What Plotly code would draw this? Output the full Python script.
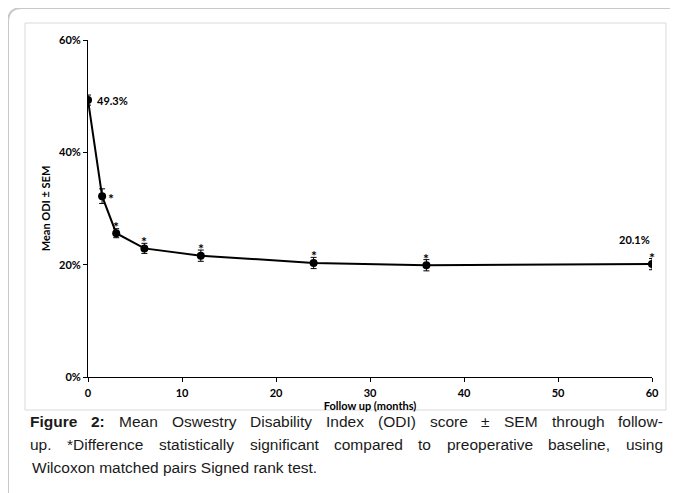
import plotly.graph_objects as go

months = [0, 1.5, 3, 6, 12, 24, 36, 60]
odi_pct = [49.3, 32.2, 25.6, 22.9, 21.6, 20.3, 19.9, 20.1]
sem_pct = [0.9, 1.3, 0.8, 0.9, 1.0, 1.0, 1.0, 1.0]
significant = [False, True, True, True, True, True, True, True]
x_ticks = [0, 10, 20, 30, 40, 50, 60]
y_ticks = [0, 20, 40, 60]
y_tick_labels = [f"{v}%" for v in y_ticks]
caption_lines = [
    "Figure 2: Mean Oswestry Disability Index (ODI) score ± SEM through follow-",
    "up. *Difference statistically significant compared to preoperative baseline, using",
    "Wilcoxon matched pairs Signed rank test.",
]
caption_bold_words = 2  # "Figure 2:" on the first line

# page body has an 8px margin; work in window pixels and convert
OFF = 8
W, H = 678 - OFF, 493 - OFF
L, R, T, B = 88 - OFF, 678 - 652, 40 - OFF, 493 - 377
pw, ph = W - L - R, H - T - B


def px(x):
    return (x - OFF - L) / pw


def py(y):
    return (H + OFF - B - y) / ph


fig = go.Figure()
fig.add_trace(go.Scatter(
    x=months, y=odi_pct, mode="lines+markers",
    line=dict(color="black", width=2),
    marker=dict(color="black", size=8),
    error_y=dict(type="data", array=sem_pct, color="black", thickness=1, width=3),
    showlegend=False, hoverinfo="skip",
))

lab_font = dict(family="Lato, Open Sans, sans-serif", size=11, color="black", weight=700)
star_font = dict(family="Lato, Open Sans, sans-serif", size=14, color="black", weight=700)

anns = []
for i, (m, v, s) in enumerate(zip(months, odi_pct, significant)):
    if not s:
        continue
    if i == 1:
        anns.append(dict(x=m, y=v, text="*", showarrow=False, xshift=9, yshift=-2,
                         font=star_font))
    else:
        anns.append(dict(x=m, y=v, text="*", showarrow=False, yshift=7,
                         font=star_font))
anns.append(dict(x=months[0], y=odi_pct[0], text=f"{odi_pct[0]}%", showarrow=False,
                 xanchor="left", xshift=7, font=lab_font))
anns.append(dict(x=months[-1], y=odi_pct[-1], text=f"{odi_pct[-1]}%", showarrow=False,
                 xanchor="right", xshift=0, yshift=25, font=lab_font))

# Arial / Liberation Sans advance widths (1/1000 em)
REG = {' ': 278, 'a': 556, 'b': 556, 'c': 500, 'd': 556, 'e': 556, 'f': 278, 'g': 556,
       'h': 556, 'i': 222, 'j': 222, 'k': 500, 'l': 222, 'm': 833, 'n': 556, 'o': 556,
       'p': 556, 'q': 556, 'r': 333, 's': 500, 't': 278, 'u': 556, 'v': 500, 'w': 722,
       'x': 500, 'y': 500, 'z': 500, 'A': 667, 'B': 667, 'C': 722, 'D': 722, 'E': 667,
       'F': 611, 'G': 778, 'H': 722, 'I': 278, 'M': 833, 'O': 778, 'R': 722, 'S': 667,
       'W': 944, '(': 333, ')': 333, '±': 584, '-': 333, '.': 278, '*': 389, ',': 278,
       ':': 278, '2': 556}
BOLD = {'F': 611, 'i': 278, 'g': 611, 'u': 611, 'r': 389, 'e': 556, '2': 556, ':': 333,
        ' ': 278}

cap_size = 15.5
cap_font = dict(family="Liberation Sans, Arial, sans-serif", size=cap_size, color="#1a1a1a")
cap_x0, cap_x1 = 30, 663


def wwidth(word, bold):
    tab = BOLD if bold else REG
    return sum(tab.get(c, REG.get(c, 556)) for c in word) * cap_size / 1000.0


for k, line in enumerate(caption_lines):
    ypos = py(421 + 23 * k)
    words = line.split(" ")
    nb = caption_bold_words if k == 0 else 0
    if k == len(caption_lines) - 1:
        anns.append(dict(xref="paper", yref="paper", x=px(cap_x0), y=ypos, text=line,
                         showarrow=False, xanchor="left", yanchor="middle", font=cap_font))
        continue
    widths = [wwidth(w, j < nb) for j, w in enumerate(words)]
    gap = (cap_x1 - cap_x0 - sum(widths)) / (len(words) - 1)
    x = cap_x0
    for j, w in enumerate(words):
        txt = f"<b>{w}</b>" if j < nb else w
        anns.append(dict(xref="paper", yref="paper", x=px(x), y=ypos, text=txt,
                         showarrow=False, xanchor="left", yanchor="middle",
                         font=cap_font, borderpad=0, borderwidth=0))
        x += widths[j] + gap

shapes = [
    dict(type="rect", xref="paper", yref="paper", x0=px(25), x1=px(666), y0=py(410), y1=py(23),
         line=dict(color="#d9d9d9", width=1), layer="below"),
    dict(type="path", xref="paper", yref="paper",
         path=f"M {px(8)} {py(520)} L {px(8)} {py(22)} Q {px(8)} {py(8)} {px(22)} {py(8)} L {px(720)} {py(8)}",
         line=dict(color="#c8c8c8", width=2)),
]

fig.update_layout(
    width=W, height=H,
    margin=dict(l=L, r=R, t=T, b=B),
    paper_bgcolor="white", plot_bgcolor="white",
    annotations=anns, shapes=shapes,
    xaxis=dict(range=[0, 60], tickvals=x_ticks, showgrid=False, zeroline=False,
               showline=True, linecolor="black", linewidth=1, ticks="outside",
               ticklen=4, tickcolor="black", tickfont=lab_font, ticklabelstandoff=2,
               title=dict(text="Follow up (months)", font=lab_font, standoff=0)),
    yaxis=dict(range=[0, 60], tickvals=y_ticks, ticktext=y_tick_labels, showgrid=False,
               zeroline=False, showline=True, linecolor="black", linewidth=1,
               ticks="outside", ticklen=4, tickcolor="black", tickfont=lab_font,
               title=dict(text="Mean ODI ± SEM", font=lab_font, standoff=6)),
)

fig.write_html("out.html")
